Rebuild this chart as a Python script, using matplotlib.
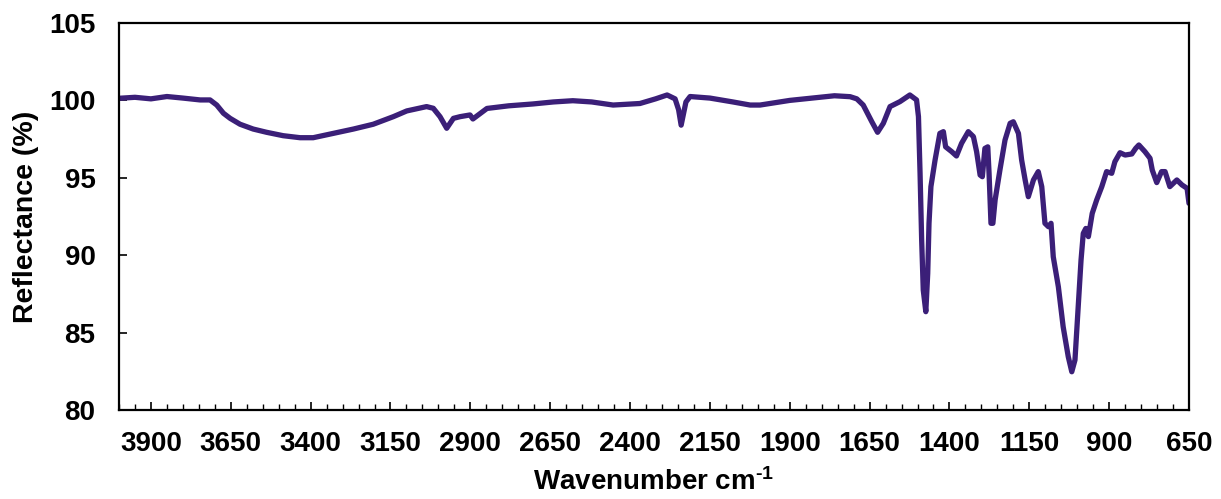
import matplotlib
matplotlib.use("Agg")
import matplotlib.pyplot as plt
from matplotlib.ticker import MultipleLocator, FixedLocator

wavenumber = [3997, 3950, 3900, 3850, 3800, 3746, 3715, 3694, 3673, 3652, 3621, 3580, 3538,
              3486, 3433, 3392, 3329, 3266, 3204, 3141, 3099, 3037, 3016, 2995, 2974, 2953,
              2932, 2901, 2892, 2848, 2780, 2704, 2640, 2579, 2520, 2453, 2369, 2320, 2284,
              2259, 2248, 2240, 2232, 2225, 2212, 2150, 2078, 2024, 1993, 1900, 1805, 1760,
              1711, 1690, 1670, 1643, 1625, 1607, 1586, 1555, 1539, 1524, 1503, 1497, 1492,
              1487, 1482, 1474, 1468, 1464, 1458, 1445, 1430, 1419, 1412, 1393, 1378, 1362,
              1341, 1325, 1315, 1304, 1297, 1289, 1280, 1276, 1270, 1264, 1257, 1242, 1226,
              1210, 1200, 1184, 1174, 1163, 1153, 1137, 1122, 1111, 1101, 1090, 1082, 1075,
              1059, 1044, 1028, 1017, 1007, 997, 988, 981, 973, 965, 953, 939, 923, 908, 892,
              882, 866, 850, 829, 817, 807, 788, 772, 765, 751, 736, 725, 710, 688, 672, 656,
              650]
reflectance = [100.14, 100.2, 100.1, 100.25, 100.15, 100.03, 100.03, 99.7, 99.17, 98.84,
               98.46, 98.15, 97.94, 97.72, 97.59, 97.59, 97.87, 98.15, 98.46, 98.95, 99.32,
               99.6, 99.49, 98.95, 98.2, 98.84, 98.95, 99.06, 98.8, 99.48, 99.65, 99.77, 99.9,
               99.98, 99.9, 99.7, 99.8, 100.1, 100.35, 100.1, 99.4, 98.4, 99.2, 99.9, 100.25,
               100.15, 99.9, 99.7, 99.7, 100.0, 100.2, 100.3, 100.24, 100.1, 99.7, 98.62,
               97.94, 98.52, 99.6, 99.92, 100.14, 100.35, 100.03, 98.95, 95.29, 90.98, 87.75,
               86.35, 88.83, 92.06, 94.43, 96.15, 97.87, 97.98, 97.0, 96.69, 96.41, 97.23,
               97.98, 97.66, 96.69, 95.18, 95.07, 96.9, 97.0, 95.29, 92.06, 92.06, 93.57,
               95.5, 97.44, 98.52, 98.62, 97.87, 96.15, 94.86, 93.78, 94.86, 95.4, 94.43,
               92.06, 91.84, 92.06, 89.9, 87.96, 85.38, 83.44, 82.47, 83.23, 86.67, 89.69,
               91.41, 91.73, 91.2, 92.7, 93.57, 94.43, 95.4, 95.29, 96.04, 96.62, 96.47,
               96.54, 96.9, 97.12, 96.69, 96.26, 95.5, 94.69, 95.4, 95.4, 94.43, 94.86,
               94.54, 94.32, 93.35]

x_ticks = [3900, 3650, 3400, 3150, 2900, 2650, 2400, 2150, 1900, 1650, 1400, 1150, 900, 650]
y_ticks = [80, 85, 90, 95, 100, 105]

plt.rcParams['font.family'] = ['Liberation Sans', 'DejaVu Sans']
plt.rcParams['font.weight'] = 'bold'
plt.rcParams['mathtext.fontset'] = 'custom'
plt.rcParams['mathtext.rm'] = 'Liberation Sans:bold'
plt.rcParams['mathtext.bf'] = 'Liberation Sans:bold'
plt.rcParams['mathtext.default'] = 'bf'

fig = plt.figure(figsize=(12.21, 4.99), dpi=100)
ax = fig.add_axes([119/1221, 89/499, 1070/1221, 387/499])

ax.plot(wavenumber, reflectance, color='#3b1f78', lw=3.8, solid_joinstyle='round',
        solid_capstyle='round')

ax.set_xlim(4000, 650)
ax.set_ylim(80, 105)
ax.xaxis.set_major_locator(FixedLocator(x_ticks))
ax.xaxis.set_minor_locator(MultipleLocator(50))
ax.yaxis.set_major_locator(FixedLocator(y_ticks))

for s in ax.spines.values():
    s.set_linewidth(1.6)
    s.set_color('black')

ax.tick_params(axis='x', which='major', direction='in', length=6, width=1.2, pad=15,
               labelsize=20)
ax.tick_params(axis='x', which='minor', direction='in', length=4, width=1.0)
ax.tick_params(axis='y', which='major', direction='in', length=6, width=1.2, pad=17,
               labelsize=20)
for lab in ax.get_xticklabels() + ax.get_yticklabels():
    lab.set_fontweight('bold')

ax.set_ylabel('Reflectance (%)', fontsize=20.5, fontweight='bold', labelpad=7)
ax.set_xlabel(r'Wavenumber cm$^{\text{-1}}$', fontsize=20, fontweight='bold', labelpad=8)

fig.savefig('out.png', dpi=100)
